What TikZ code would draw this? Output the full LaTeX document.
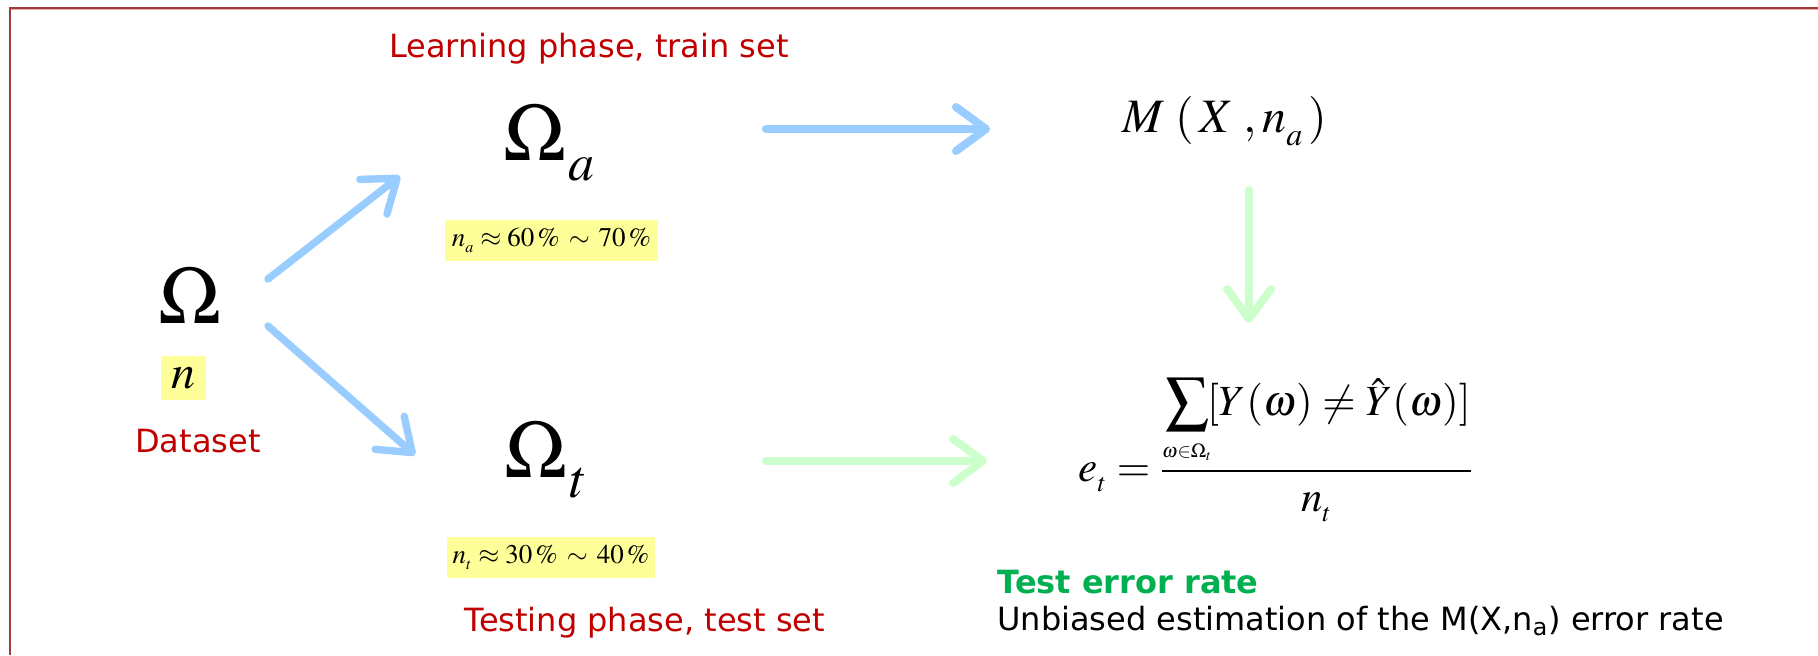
\documentclass[tikz,border=0pt]{standalone}
\usepackage{mathptmx}
\usepackage{fontspec}
\newfontfamily\dv{DejaVu Sans}
\usetikzlibrary{arrows.meta}
\definecolor{dred}{RGB}{192,0,0}
\definecolor{framec}{RGB}{160,60,58}
\definecolor{framel}{RGB}{232,170,170}
\definecolor{ablue}{RGB}{153,204,255}
\definecolor{agreen}{RGB}{204,255,204}
\definecolor{yel}{RGB}{255,255,153}
\definecolor{tgreen}{RGB}{0,176,80}
\newcommand{\lowsub}[3]{\raisebox{-#3}{\fontsize{#2}{#2}\selectfont$#1$}}
\begin{document}
\begin{tikzpicture}[x=0.5pt,y=-0.5pt,
  lbl/.style={font=\dv\fontsize{16}{19}\selectfont, inner sep=0},
  big/.style={font=\fontsize{41}{43}\selectfont, inner sep=0},
  ybox/.style={fill=yel, inner sep=0, minimum height=20.5pt, font=\fontsize{13.5}{15}\selectfont},
  arr/.style={line width=4pt, line cap=round, -{Straight Barb[round,length=15pt,width=22pt]}}]
\useasboundingbox (0,0) rectangle (1818,655);
\fill[white] (0,0) rectangle (1818,655);
\draw[framel, line width=0.75pt] (11,9.5) -- (1818,9.5);
\draw[framec, line width=1pt] (10,7.5) -- (1818,7.5);
\draw[framec, line width=1pt] (10,7) -- (10,655);

% left dataset
\node[big] (om) at (190,295) {$\Omega$};
\node[fill=yel, inner sep=0, minimum width=22.5pt, minimum height=22pt, font=\fontsize{24}{26}\selectfont] (n) at (183.5,378) {$n$};
\node[lbl, text=dred] (ds) at (198,441) {Dataset};

% train
\node[lbl, text=dred] (learn) at (589,49) {Learning phase, train set};
\node[big] (oma) at (549,143) {$\Omega$\kern1.5pt\lowsub{a}{26}{10pt}};
\node[ybox, minimum width=106.5pt] (na) at (551.5,240.5) {$n_{\lowsub{a}{8}{1pt}} \approx 60\,\% \,\sim\, 70\,\%$};

% test
\node[big] (omt) at (546,460) {$\Omega$\kern1.5pt\lowsub{t}{27}{10pt}};
\node[ybox, minimum width=104pt] (nt) at (551,557.5) {$n_{\lowsub{t}{8}{1pt}} \approx 30\,\% \,\sim\, 40\,\%$};
\node[lbl, text=dred] (test) at (645,623) {Testing phase, test set};

% model
\node[font=\fontsize{24}{26}\selectfont, inner sep=0] (m) at (1225,121) {$M\;(\,X\;,n_{\lowsub{a}{16}{3pt}}\,)$};

% error formula
\node[font=\fontsize{21.5}{25}\selectfont, inner sep=0] (et) at (1276,450)
  {$\displaystyle e_{\lowsub{t}{13}{2pt}} = \frac{\displaystyle\sum_{\mbox{\fontsize{10}{11}\selectfont$\omega{\in}\Omega_t$}}\![Y(\omega)\neq\hat{Y}(\omega)]}{n_{\lowsub{t}{13}{2pt}}}$};

\node[lbl, anchor=west, text=tgreen, font=\dv\bfseries\fontsize{16}{19}\selectfont] (ter) at (997,582) {Test error rate};
\node[lbl, anchor=west] (unb) at (997,621) {Unbiased estimation of the M(X,n\textsubscript{a}) error rate};

% arrows
\coordinate (a1s) at (268,279); \coordinate (a1e) at (400,176);
\coordinate (a2s) at (268,326); \coordinate (a2e) at (415,455);
\coordinate (a3s) at (766,129); \coordinate (a3e) at (990,129);
\coordinate (a4s) at (766,461); \coordinate (a4e) at (987,461);
\coordinate (a5s) at (1249,190); \coordinate (a5e) at (1249,323);
\draw[arr, ablue, line width=3.7pt] (a1s) -- (a1e);
\draw[arr, ablue, line width=3.7pt] (a2s) -- (a2e);
\draw[arr, ablue] (a3s) -- (a3e);
\draw[arr, agreen] (a4s) -- (a4e);
\draw[arr, agreen] (a5s) -- (a5e);
\end{tikzpicture}
\end{document}
